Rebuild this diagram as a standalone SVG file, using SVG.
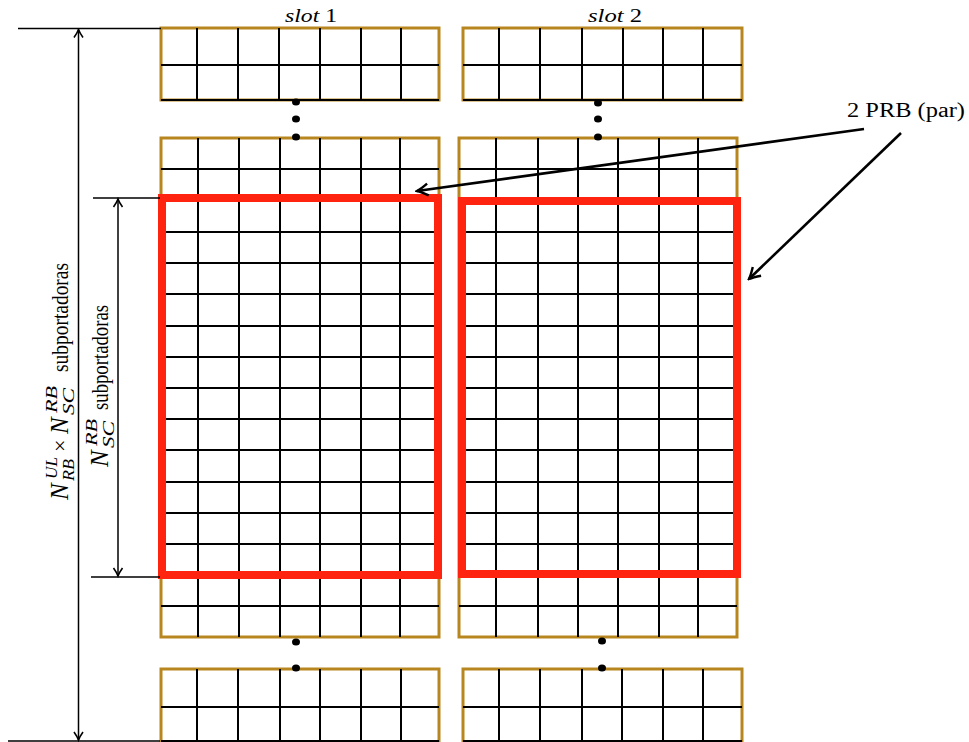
<svg xmlns="http://www.w3.org/2000/svg" width="969" height="742" viewBox="0 0 969 742">
<style>
.box{fill:none;stroke:#B8861E;stroke-width:3}
.g{stroke:#000;stroke-width:2;fill:none}
.red{fill:none;stroke:#FF2410;stroke-width:8}
.dim{stroke:#000;stroke-width:1.5;fill:none}
.arr{stroke:#000;stroke-width:2.6;fill:none}
.t{font-family:"Liberation Serif","Times New Roman",serif;fill:#000}
.i{font-style:italic}
</style>
<defs>
<marker id="ah" viewBox="-10 -6 12 12" refX="0" refY="0" markerWidth="12" markerHeight="12" markerUnits="userSpaceOnUse" orient="auto">
<path d="M-8,-4.5 Q-3,-1 0,0 Q-3,1 -8,4.5" fill="none" stroke="#000" stroke-width="1.6"/>
</marker>
<marker id="ah2" viewBox="-14 -8 16 16" refX="0" refY="0" markerWidth="16" markerHeight="16" markerUnits="userSpaceOnUse" orient="auto">
<path d="M-11,-6 Q-4,-1.5 0,0 Q-4,1.5 -11,6" fill="none" stroke="#000" stroke-width="2.4"/>
</marker>
</defs>
<rect width="969" height="742" fill="#fff"/>

<g id="slot1-top">
<rect class="box" x="161" y="28" width="278" height="72"/>
<path class="g" d="M161,65H439M161,100H439M197,28V100M238,28V100M279,28V100M320,28V100M361,28V100M401,28V100"/>
</g>
<g id="slot1-mid">
<rect class="box" x="161" y="138" width="278" height="499"/>
<path class="g" d="M161,169H439M161,198H439M161,232H439M161,263H439M161,294H439M161,326H439M161,357H439M161,388H439M161,419H439M161,450H439M161,482H439M161,513H439M161,544H439M161,575H439M161,606H439
M198,138V637M239,138V637M280,138V637M320,138V637M361,138V637M400,138V637"/>
</g>
<g id="slot1-bottom">
<rect class="box" x="161" y="669" width="278" height="80"/>
<path class="g" d="M161,707H439M161,741H439M197,669V742M238,669V742M280,669V742M320,669V742M361,669V742M401,669V742"/>
</g>

<g id="slot2-top">
<rect class="box" x="463" y="28" width="279" height="72"/>
<path class="g" d="M463,65H742M463,100H742M499,28V100M540,28V100M582,28V100M623,28V100M663,28V100M703,28V100"/>
</g>
<g id="slot2-mid">
<rect class="box" x="459" y="138" width="278" height="499"/>
<path class="g" d="M459,169H737M459,201H737M459,232H737M459,263H737M459,294H737M459,326H737M459,357H737M459,388H737M459,419H737M459,450H737M459,482H737M459,513H737M459,544H737M459,574H737M459,606H737
M496,138V637M538,138V637M578,138V637M618,138V637M659,138V637M698,138V637"/>
</g>
<g id="slot2-bottom">
<rect class="box" x="463" y="669" width="279" height="80"/>
<path class="g" d="M463,707H742M463,741H742M499,669V742M540,669V742M582,669V742M622,669V742M663,669V742M703,669V742"/>
</g>

<g id="prb1"><rect class="red" x="162" y="198" width="276" height="377"/></g>
<g id="prb2"><rect class="red" x="462" y="201" width="275" height="373"/></g>

<g id="dots" fill="#000">
<ellipse cx="296" cy="102" rx="4" ry="3.5"/><ellipse cx="296" cy="119" rx="4" ry="3.5"/><ellipse cx="296" cy="137" rx="4" ry="3.5"/>
<ellipse cx="598" cy="103" rx="4" ry="3.5"/><ellipse cx="598" cy="119" rx="4" ry="3.5"/><ellipse cx="598" cy="137" rx="4" ry="3.5"/>
<ellipse cx="296" cy="642" rx="4" ry="3.5"/><ellipse cx="296" cy="668" rx="4" ry="3.5"/>
<ellipse cx="602" cy="641" rx="4" ry="3.5"/><ellipse cx="602" cy="668" rx="4" ry="3.5"/>
</g>

<g id="connectors">
<path class="dim" d="M18,28.5H161M8,741H160M93,198H160M91,577H160"/>
<line class="dim" x1="78.5" y1="385" x2="78.5" y2="29.5" marker-end="url(#ah)"/>
<line class="dim" x1="78.5" y1="385" x2="78.5" y2="740" marker-end="url(#ah)"/>
<line class="dim" x1="118" y1="388" x2="118" y2="199" marker-end="url(#ah)"/>
<line class="dim" x1="118" y1="388" x2="118" y2="576" marker-end="url(#ah)"/>
<line class="arr" x1="864" y1="129" x2="417" y2="191" marker-end="url(#ah2)"/>
<line class="arr" x1="901" y1="133" x2="749" y2="279" marker-end="url(#ah2)"/>
</g>

<g id="labels">
<text class="t" x="285" y="22" font-size="18" textLength="52" lengthAdjust="spacingAndGlyphs"><tspan class="i">slot</tspan> 1</text>
<text class="t" x="588" y="22" font-size="18" textLength="54" lengthAdjust="spacingAndGlyphs"><tspan class="i">slot</tspan> 2</text>
<text class="t" x="847" y="117" font-size="20" textLength="118" lengthAdjust="spacingAndGlyphs">2 PRB (par)</text>
<g transform="translate(68,500) rotate(-90)">
<text class="t i" x="0" y="0" font-size="25">N</text>
<text class="t i" x="21" y="-11" font-size="16" textLength="22" lengthAdjust="spacingAndGlyphs">UL</text>
<text class="t i" x="19" y="6" font-size="16" textLength="22" lengthAdjust="spacingAndGlyphs">RB</text>
<text class="t" x="48" y="-1" font-size="22">×</text>
<text class="t i" x="66" y="0" font-size="25">N</text>
<text class="t i" x="87" y="-11" font-size="16" textLength="27" lengthAdjust="spacingAndGlyphs">RB</text>
<text class="t i" x="85" y="6" font-size="16" textLength="27" lengthAdjust="spacingAndGlyphs">SC</text>
<text class="t" x="128" y="0" font-size="24" textLength="109" lengthAdjust="spacingAndGlyphs">subportadoras</text>
</g>
<g transform="translate(108,467) rotate(-90)">
<text class="t i" x="0" y="0" font-size="25">N</text>
<text class="t i" x="21" y="-11" font-size="16" textLength="27" lengthAdjust="spacingAndGlyphs">RB</text>
<text class="t i" x="19" y="6" font-size="16" textLength="27" lengthAdjust="spacingAndGlyphs">SC</text>
<text class="t" x="57" y="0" font-size="24" textLength="105" lengthAdjust="spacingAndGlyphs">subportadoras</text>
</g>
</g>
</svg>
